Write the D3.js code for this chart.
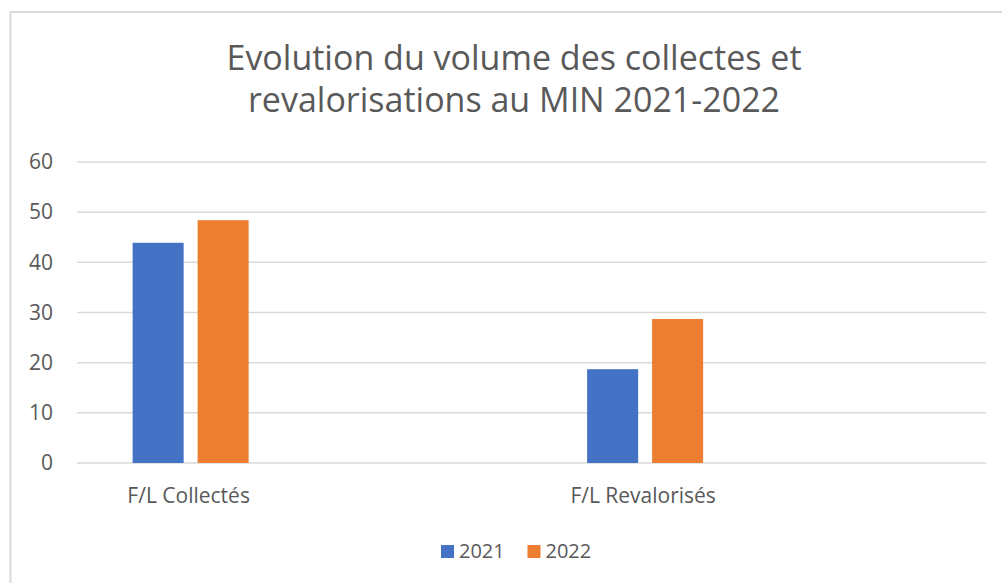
<!DOCTYPE html>
<html>
<head>
<meta charset="utf-8">
<script src="https://cdn.jsdelivr.net/npm/d3@7"></script>
<style>
  body { margin: 0; background: #fff; }
  text { font-family: "Open Sans", sans-serif; fill: #595959; }
</style>
</head>
<body>
<div id="chart"></div>
<script>
var categories = ["F/L Collectés", "F/L Revalorisés"];
var years = ["2021", "2022"];
var values2021 = [43.9, 18.7];
var values2022 = [48.4, 28.7];
var yTicks = [0, 10, 20, 30, 40, 50, 60];
var titleLines = ["Evolution du volume des collectes et", "revalorisations au MIN 2021-2022"];

var width = 1002;
var height = 583;
var margin = {top: 162, right: 16, bottom: 120, left: 77};

var data = categories.map((c, i) => ({cat: c, "2021": values2021[i], "2022": values2022[i]}));

var color = d3.scaleOrdinal().domain(years).range(["#4472c4", "#ed7d31"]);

var svg = d3.select("#chart").append("svg")
    .attr("width", width)
    .attr("height", height);

// chart border
svg.append("rect")
    .attr("x", 10.5).attr("y", 12)
    .attr("width", width).attr("height", height)
    .attr("fill", "#fff")
    .attr("stroke", "#d9d9d9")
    .attr("stroke-width", 2);

var y = d3.scaleLinear()
    .domain([0, 60])
    .range([463, margin.top]);

// category centres sit left of the band centre, like the Excel original
var x0 = d3.scalePoint()
    .domain(categories)
    .range([margin.left, width - margin.right])
    .padding(0.5)
    .align(0.25);

var x1 = d3.scaleBand()
    .domain(years)
    .range([-58, 58])
    .paddingInner(0.215);

// gridlines
svg.append("g")
    .selectAll("line")
    .data(yTicks)
    .join("line")
    .attr("x1", margin.left)
    .attr("x2", width - margin.right)
    .attr("y1", d => y(d))
    .attr("y2", d => y(d))
    .attr("stroke", "#d9d9d9")
    .attr("stroke-width", 1.5);

// y axis labels
var yAxis = g => g
    .attr("transform", `translate(53,0)`)
    .call(d3.axisLeft(y).tickValues(yTicks).tickSize(0).tickPadding(0))
    .call(g => g.select(".domain").remove())
    .call(g => g.selectAll("text")
        .style("font-size", "21px")
        .style("font-family", "'Open Sans', sans-serif")
        .attr("fill", "#595959"));
svg.append("g").call(yAxis);

// bars
svg.append("g")
    .selectAll("g")
    .data(data)
    .join("g")
    .attr("transform", d => `translate(${x0(d.cat)},0)`)
    .selectAll("rect")
    .data(d => years.map(k => ({key: k, value: d[k]})))
    .join("rect")
    .attr("x", d => x1(d.key))
    .attr("y", d => y(d.value))
    .attr("width", x1.bandwidth())
    .attr("height", d => y(0) - y(d.value))
    .attr("fill", d => color(d.key));

// category labels
svg.append("g")
    .selectAll("text")
    .data(categories)
    .join("text")
    .attr("x", d => x0(d) - 2)
    .attr("y", 503)
    .attr("text-anchor", "middle")
    .style("font-size", "21px")
    .text(d => d);

// title
svg.append("text")
    .attr("x", 514)
    .attr("y", 70)
    .attr("text-anchor", "middle")
    .style("font-size", "34px")
    .selectAll("tspan")
    .data(titleLines)
    .join("tspan")
    .attr("x", 514)
    .attr("dy", (d, i) => i == 0 ? 0 : 42)
    .text(d => d);

// legend
var legend = svg.append("g")
    .selectAll("g")
    .data(years)
    .join("g")
    .attr("transform", (d, i) => `translate(${441 + i * 86.5},545)`);

legend.append("rect")
    .attr("width", 13)
    .attr("height", 13)
    .attr("fill", d => color(d));

legend.append("text")
    .attr("x", 18)
    .attr("y", 13)
    .style("font-size", "20px")
    .text(d => d);
</script>
</body>
</html>
